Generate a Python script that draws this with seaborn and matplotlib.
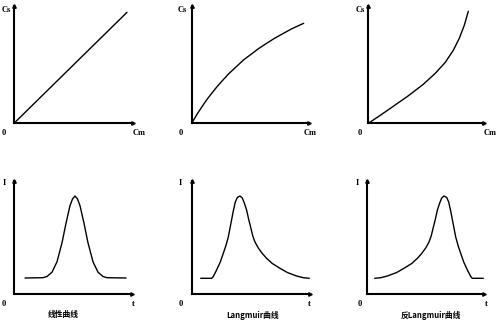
import matplotlib
matplotlib.use("Agg")
import matplotlib.pyplot as plt
import seaborn as sns
import pandas as pd

sns.set_theme(style="white")
plt.rcParams["font.family"] = ["Noto Sans CJK SC", "DejaVu Sans"]

W, H = 500, 323

# Upper row: stationary-phase concentration Cs versus mobile-phase concentration Cm
cm_linear = [0, 113]
cs_linear = [0, 111]

cm_langmuir = [0, 5, 10, 15, 20, 25, 30, 37, 45, 52, 60, 67, 75, 82, 90, 100, 112]
cs_langmuir = [0, 8.5, 16.2, 23.5, 30.0, 36.2, 41.9, 49.5, 57, 63.5, 69.5, 74.8, 80, 84.5, 89, 94.5, 100]

cm_anti = [0, 12, 25, 40, 55, 67, 77, 85, 91, 96, 100]
cs_anti = [0, 8, 17, 27.5, 39, 50, 61, 73, 85, 98, 112]

# Lower row: detector signal I versus time t
t_linear = [11, 29, 33, 38, 43, 48, 52, 56, 58.5, 61, 63.5, 66, 70, 74, 79, 84, 89, 93, 112]
i_linear = [16, 16.3, 17.5, 21.8, 32.2, 51.2, 70.7, 88.3, 95, 98, 95, 88.3, 70.7, 51.2, 32.2,
            21.8, 17.5, 16.3, 16]

t_langmuir = [8.4, 19.4, 21, 24.3, 28, 31, 33.5, 36, 38.5, 41, 43, 45, 47.7, 50, 52, 54.3, 56.3,
              58.3, 60.5, 62.7, 66, 70, 74.3, 80, 87.7, 95, 104.3, 111, 117]
i_langmuir = [15.7, 15.7, 17.5, 24, 32, 40.7, 48, 57, 70, 83, 92, 96.5, 98, 96, 91, 84, 75,
              67, 58, 52, 46, 40.5, 35.7, 30.5, 25.7, 21.5, 18, 16.3, 15.7]

t_anti = [7.4, 13.4, 20.1, 29.4, 36.7, 44.4, 50.1, 54.4, 58.4, 61.7, 63.9, 66.1, 68.1, 70.1,
          72.4, 74.4, 76.7, 79.4, 81.4, 83.4, 85.9, 88.4, 90.9, 93.4, 96.4, 100.1, 103.4, 105, 116]
i_anti = [15.7, 16.3, 18, 21.5, 25.7, 30.5, 35.7, 40.5, 46, 52, 58, 67, 75, 84, 91, 96, 98,
          96.5, 92, 83, 70, 57, 48, 40.7, 32, 24, 17.5, 15.7, 15.7]

captions = ["线性曲线", "Langmuir曲线", "反Langmuir曲线"]

fig = plt.figure(figsize=(W / 100, H / 100), dpi=100)
fig.patch.set_facecolor("white")


def fx(px):
    return px / W


def fy(py):
    return 1 - py / H


def make_axes(x0, y0, w, h):
    ax = fig.add_axes([fx(x0), fy(y0), w / W, h / H])
    ax.set_xlim(0, w)
    ax.set_ylim(0, h)
    ax.set_facecolor("none")
    for side in ("top", "right"):
        ax.spines[side].set_visible(False)
    for side in ("left", "bottom"):
        ax.spines[side].set_color("black")
        ax.spines[side].set_linewidth(1.5)
    ax.set_xticks([])
    ax.set_yticks([])
    ax.plot(1, 0, marker=">", color="black", markersize=2.5, transform=ax.transAxes, clip_on=False)
    ax.plot(0, 1, marker="^", color="black", markersize=2.5, transform=ax.transAxes, clip_on=False)
    return ax


def draw(ax, xs, ys):
    df = pd.DataFrame({"x": xs, "y": ys})
    sns.lineplot(data=df, x="x", y="y", ax=ax, color="black", linewidth=1.0,
                 estimator=None, sort=False)
    ax.set_xlabel("")
    ax.set_ylabel("")


def label(px, py, s, **kw):
    fig.text(fx(px), fy(py), s, ha="center", va="center", color="black", **kw)


axis_font = dict(fontsize=6, fontweight="bold", family="Liberation Serif")

top = [(14, 123.3, 119, 117, cm_linear, cs_linear),
       (191.7, 123.3, 117, 117, cm_langmuir, cs_langmuir),
       (368.3, 123.3, 116, 117, cm_anti, cs_anti)]
for x0, y0, w, h, xs, ys in top:
    ax = make_axes(x0, y0, w, h)
    draw(ax, xs, ys)

bottom = [(14, 294, 118, 113, t_linear, i_linear),
          (192.3, 294, 118, 113, t_langmuir, i_langmuir),
          (367.3, 294, 117, 113, t_anti, i_anti)]
for x0, y0, w, h, xs, ys in bottom:
    ax = make_axes(x0, y0, w, h)
    draw(ax, xs, ys)

# Axis letters for the upper row
for cs_x, zero_x, cm_x in [(6.5, 3.5, 139), (182.5, 181, 310), (360, 360, 490)]:
    label(cs_x, 10.5, "Cs", **axis_font)
    label(zero_x, 132.5, "0", **axis_font)
    label(cm_x, 133, "Cm", **axis_font)

# Axis letters for the lower row
for i_x, zero_x, t_x in [(4, 4, 133.5), (180, 181, 309.5), (357, 359.5, 486)]:
    label(i_x, 183, "I", **axis_font)
    label(zero_x, 304, "0", **axis_font)
    label(t_x, 304, "t", **axis_font)

for cx, text in zip([63, 253, 431], captions):
    label(cx, 315, text, fontsize=5.6, fontweight="bold")

fig.savefig("out.png", dpi=100, facecolor="white")
